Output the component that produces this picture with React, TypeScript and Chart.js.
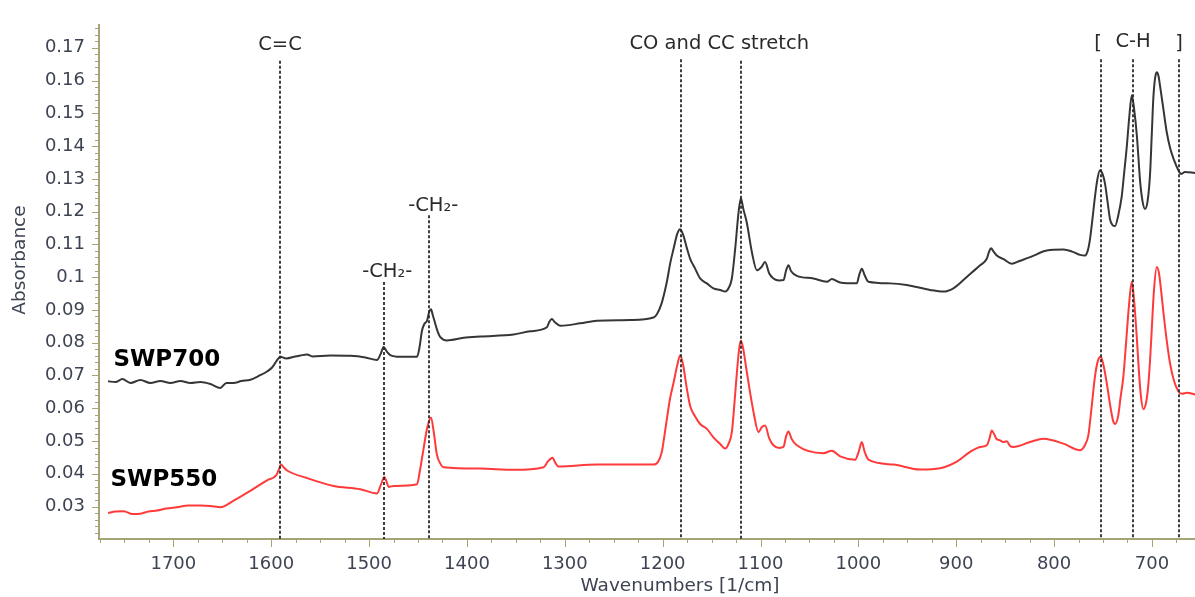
import { useEffect, useRef } from "react";
import { Chart, registerables } from "chart.js";

Chart.register(...registerables);

// ---- Data (wavenumber [1/cm], absorbance) ----
const wavenumbers700 = [
  1766.7, 1759.2, 1752.1, 1743.9, 1733.7, 1723.5, 1713.3, 1703.0, 1692.8, 1682.6,
  1672.4, 1662.2, 1652.0, 1645.8, 1638.7, 1630.5, 1621.3, 1613.2, 1604.3, 1598.9,
  1594.0, 1590.7, 1584.6, 1575.4, 1570.2, 1563.4, 1558.0, 1539.6, 1519.2, 1503.8,
  1491.9, 1488.0, 1485.2, 1481.9, 1478.3, 1468.1, 1451.0, 1448.7, 1445.9, 1443.6,
  1440.8, 1438.7, 1436.7, 1434.9, 1432.3, 1429.8, 1427.2, 1420.4, 1403.4, 1386.4,
  1352.4, 1335.3, 1318.3, 1315.9, 1313.2, 1310.3, 1304.7, 1284.2, 1267.2, 1233.2,
  1209.4, 1205.9, 1201.5, 1195.7, 1192.3, 1188.9, 1185.1, 1182.1, 1178.7, 1175.4,
  1171.9, 1166.8, 1161.7, 1154.8, 1148.1, 1141.2, 1136.1, 1132.7, 1129.3, 1125.9,
  1122.5, 1120.1, 1117.4, 1114.0, 1108.8, 1103.7, 1099.3, 1095.3, 1091.2, 1086.8,
  1080.9, 1076.5, 1073.8, 1071.4, 1068.7, 1062.9, 1045.9, 1032.2, 1027.1, 1018.6,
  1001.6, 999.2, 996.5, 993.6, 989.7, 967.6, 950.5, 926.7, 913.1, 902.9,
  892.7, 883.8, 875.6, 868.8, 866.4, 864.4, 861.8, 858.6, 851.1, 843.3,
  834.8, 824.5, 807.5, 790.5, 781.6, 773.5, 768.4, 765.3, 763.3, 760.7,
  758.2, 755.6, 753.1, 750.5, 748.0, 745.4, 742.8, 740.3, 737.7, 734.6,
  730.9, 728.5, 725.8, 723.1, 720.6, 718.3, 715.5, 713.7, 712.2, 709.6,
  707.1, 704.5, 701.9, 700.1, 698.6, 696.9, 695.1, 693.3, 691.3, 688.4,
  685.1, 681.5, 677.4, 673.0, 670.3, 666.2, 656.0,
];
const absorbance700 = [
  0.0682, 0.0680, 0.0689, 0.0677, 0.0686, 0.0677, 0.0683, 0.0677, 0.0683, 0.0677,
  0.0680, 0.0674, 0.0662, 0.0677, 0.0677, 0.0683, 0.0687, 0.0698, 0.0712, 0.0725,
  0.0747, 0.0757, 0.0752, 0.0758, 0.0761, 0.0764, 0.0758, 0.0761, 0.0760, 0.0755,
  0.0747, 0.0767, 0.0787, 0.0773, 0.0762, 0.0757, 0.0757, 0.0782, 0.0837, 0.0857,
  0.0867, 0.0893, 0.0902, 0.0884, 0.0857, 0.0833, 0.0817, 0.0807, 0.0815, 0.0819,
  0.0825, 0.0835, 0.0847, 0.0863, 0.0872, 0.0863, 0.0852, 0.0859, 0.0867, 0.0869,
  0.0877, 0.0887, 0.0916, 0.0986, 0.1042, 0.1086, 0.1132, 0.1146, 0.1126, 0.1090,
  0.1056, 0.1026, 0.0996, 0.0981, 0.0966, 0.0961, 0.0956, 0.0966, 0.0996, 0.1086,
  0.1196, 0.1241, 0.1206, 0.1166, 0.1076, 0.1021, 0.1030, 0.1046, 0.1012, 0.0996,
  0.0990, 0.0991, 0.1021, 0.1036, 0.1018, 0.1004, 0.0996, 0.0986, 0.0994, 0.0984,
  0.0981, 0.1006, 0.1026, 0.1006, 0.0986, 0.0981, 0.0976, 0.0961, 0.0956, 0.0966,
  0.0991, 0.1015, 0.1036, 0.1056, 0.1078, 0.1088, 0.1078, 0.1066, 0.1054, 0.1041,
  0.1050, 0.1061, 0.1081, 0.1084, 0.1078, 0.1068, 0.1066, 0.1084, 0.1116, 0.1180,
  0.1246, 0.1301, 0.1326, 0.1315, 0.1286, 0.1231, 0.1176, 0.1159, 0.1156, 0.1186,
  0.1246, 0.1315, 0.1395, 0.1491, 0.1555, 0.1515, 0.1435, 0.1360, 0.1296, 0.1231,
  0.1208, 0.1231, 0.1316, 0.1441, 0.1545, 0.1605, 0.1625, 0.1614, 0.1575, 0.1515,
  0.1446, 0.1395, 0.1357, 0.1326, 0.1315, 0.1321, 0.1318,
];

const wavenumbers550 = [
  1766.7, 1759.2, 1750.7, 1741.9, 1733.7, 1725.5, 1716.6, 1707.1, 1696.2, 1684.7,
  1672.4, 1662.2, 1652.0, 1638.4, 1621.3, 1604.3, 1594.8, 1592.2, 1590.0, 1587.1,
  1583.8, 1563.4, 1536.2, 1508.9, 1491.9, 1488.0, 1484.4, 1482.4, 1480.0, 1474.9,
  1451.0, 1448.2, 1444.3, 1440.5, 1436.7, 1433.9, 1430.6, 1427.2, 1423.9, 1386.4,
  1352.4, 1321.7, 1317.4, 1312.5, 1309.8, 1306.4, 1267.2, 1209.4, 1204.6, 1200.8,
  1198.4, 1195.7, 1192.3, 1188.9, 1185.1, 1182.1, 1179.0, 1175.4, 1171.9, 1166.8,
  1161.7, 1154.8, 1148.4, 1141.2, 1136.1, 1132.7, 1129.3, 1126.6, 1124.2, 1121.8,
  1120.1, 1117.7, 1114.6, 1110.6, 1106.5, 1102.1, 1098.8, 1095.3, 1091.2, 1086.8,
  1080.9, 1076.5, 1073.8, 1071.4, 1068.2, 1062.9, 1035.7, 1027.1, 1018.6, 1003.3,
  999.7, 996.5, 993.6, 989.7, 964.2, 936.9, 916.5, 899.4, 885.8, 875.6,
  868.8, 865.9, 863.7, 861.3, 858.8, 855.2, 852.1, 848.4, 845.0, 841.6,
  824.5, 810.9, 790.5, 773.5, 768.4, 765.0, 761.7, 758.2, 755.1, 752.3,
  749.5, 746.2, 742.8, 739.8, 737.7, 734.6, 732.1, 729.2, 726.5, 723.4,
  720.6, 718.3, 715.5, 713.2, 711.1, 708.8, 706.0, 704.0, 701.9, 699.9,
  697.9, 695.1, 692.8, 690.7, 688.4, 685.1, 681.5, 677.4, 673.0, 669.2,
  664.1, 656.0,
];
const absorbance550 = [
  0.0280, 0.0285, 0.0286, 0.0277, 0.0278, 0.0285, 0.0288, 0.0294, 0.0298, 0.0303,
  0.0303, 0.0302, 0.0298, 0.0318, 0.0348, 0.0380, 0.0396, 0.0413, 0.0428, 0.0419,
  0.0410, 0.0387, 0.0363, 0.0353, 0.0340, 0.0366, 0.0390, 0.0378, 0.0360, 0.0363,
  0.0368, 0.0407, 0.0477, 0.0542, 0.0572, 0.0527, 0.0457, 0.0431, 0.0420, 0.0416,
  0.0412, 0.0420, 0.0437, 0.0449, 0.0434, 0.0422, 0.0428, 0.0428, 0.0437, 0.0467,
  0.0512, 0.0567, 0.0632, 0.0677, 0.0731, 0.0762, 0.0731, 0.0662, 0.0607, 0.0575,
  0.0552, 0.0537, 0.0512, 0.0491, 0.0477, 0.0491, 0.0527, 0.0617, 0.0707, 0.0782,
  0.0807, 0.0782, 0.0722, 0.0647, 0.0578, 0.0527, 0.0542, 0.0547, 0.0509, 0.0487,
  0.0479, 0.0482, 0.0515, 0.0529, 0.0506, 0.0487, 0.0463, 0.0470, 0.0453, 0.0443,
  0.0467, 0.0497, 0.0467, 0.0443, 0.0428, 0.0413, 0.0417, 0.0437, 0.0467, 0.0482,
  0.0487, 0.0509, 0.0532, 0.0521, 0.0506, 0.0502, 0.0497, 0.0499, 0.0485, 0.0482,
  0.0497, 0.0507, 0.0492, 0.0472, 0.0488, 0.0517, 0.0602, 0.0697, 0.0746, 0.0757,
  0.0731, 0.0677, 0.0611, 0.0563, 0.0552, 0.0575, 0.0632, 0.0697, 0.0797, 0.0916,
  0.0986, 0.0931, 0.0817, 0.0707, 0.0632, 0.0597, 0.0617, 0.0662, 0.0747, 0.0857,
  0.0961, 0.1031, 0.1012, 0.0961, 0.0896, 0.0812, 0.0737, 0.0683, 0.0652, 0.0644,
  0.0647, 0.0642,
];

const seriesNames = ["SWP700", "SWP550"];
const seriesLabelX = [1761.3, 1764.3];
const seriesLabelY = [0.0746, 0.0381];

// Band markers (dashed vertical lines)
const markerWavenumbers = [1591, 1485, 1439, 1181, 1120, 752, 719, 672];
const markerTops = [0.166, 0.0985, 0.1189, 0.1665, 0.166, 0.1665, 0.1665, 0.1665];

// Band annotation texts
const annotationTexts = ["C=C", "-CH₂-", "-CH₂-", "CO and CC stretch", "[", "C-H", "]"];
const annotationX = [1591, 1481.4, 1434.4, 1142.2, 755.1, 719.3, 672.4];
const annotationY = [0.1708, 0.1016, 0.1218, 0.1713, 0.1713, 0.1717, 0.1713];

const xTitle = "Wavenumbers [1/cm]";
const yTitle = "Absorbance";

const AXIS = "#a4a476";
const TICK_TEXT = "#3d4352";
const FONT = "'DejaVu Sans', sans-serif";

const overlay = {
  id: "overlay",
  afterDatasetsDraw(chart: any) {
    const { ctx, chartArea } = chart;
    const x = chart.scales.x;
    const y = chart.scales.y;
    ctx.save();

    // dashed marker lines
    ctx.strokeStyle = "#2a2a2a";
    ctx.lineWidth = 1.8;
    ctx.setLineDash([3, 2]);
    markerWavenumbers.forEach((w, i) => {
      const px = Math.round(x.getPixelForValue(w));
      ctx.beginPath();
      ctx.moveTo(px, y.getPixelForValue(markerTops[i]));
      ctx.lineTo(px, chartArea.bottom);
      ctx.stroke();
    });
    ctx.setLineDash([]);

    // tick marks (major + minor)
    ctx.strokeStyle = AXIS;
    ctx.lineWidth = 1;
    for (let k = 27; k <= 71; k++) {
      const v = k * 25;
      if (v < x.min || v > x.max) continue;
      const px = Math.round(x.getPixelForValue(v)) + 0.5;
      const len = v % 100 === 0 ? 8 : 4;
      ctx.beginPath();
      ctx.moveTo(px, chartArea.bottom);
      ctx.lineTo(px, chartArea.bottom + len);
      ctx.stroke();
    }
    for (let k = 11; k <= 88; k++) {
      const v = k * 0.002;
      if (v < y.min || v > y.max) continue;
      const py = Math.round(y.getPixelForValue(v)) + 0.5;
      const len = k % 5 === 0 ? 7 : 4;
      ctx.beginPath();
      ctx.moveTo(chartArea.left, py);
      ctx.lineTo(chartArea.left - len, py);
      ctx.stroke();
    }

    // annotation texts
    ctx.fillStyle = "#2a2a2a";
    ctx.font = `19.5px ${FONT}`;
    ctx.textAlign = "center";
    ctx.textBaseline = "middle";
    annotationTexts.forEach((t, i) => {
      ctx.fillText(t, x.getPixelForValue(annotationX[i]), y.getPixelForValue(annotationY[i]));
    });

    // series labels
    ctx.fillStyle = "#000";
    ctx.font = `bold 23px ${FONT}`;
    ctx.textAlign = "left";
    seriesNames.forEach((t, i) => {
      ctx.fillText(t, x.getPixelForValue(seriesLabelX[i]), y.getPixelForValue(seriesLabelY[i]));
    });

    // axis titles
    ctx.fillStyle = TICK_TEXT;
    ctx.font = `18.5px ${FONT}`;
    ctx.textAlign = "center";
    ctx.fillText(xTitle, 680, 586);
    ctx.save();
    ctx.translate(20, 260);
    ctx.rotate(-Math.PI / 2);
    ctx.fillText(yTitle, 0, 0);
    ctx.restore();

    ctx.restore();
  },
};

export default function App() {
  const ref = useRef<HTMLCanvasElement>(null);
  useEffect(() => {
    document.body.style.margin = "0";
    const canvas = ref.current!;
    const chart = new Chart(canvas, {
      type: "line",
      data: {
        datasets: [
          {
            label: seriesNames[0],
            data: wavenumbers700.map((w, i) => ({ x: w, y: absorbance700[i] })),
            borderColor: "#363636",
            borderWidth: 2,
            pointRadius: 0,
            cubicInterpolationMode: "monotone",
          },
          {
            label: seriesNames[1],
            data: wavenumbers550.map((w, i) => ({ x: w, y: absorbance550[i] })),
            borderColor: "#ff3a3a",
            borderWidth: 2,
            pointRadius: 0,
            cubicInterpolationMode: "monotone",
          },
        ],
      },
      options: {
        animation: false,
        responsive: false,
        maintainAspectRatio: false,
        events: [],
        layout: { padding: { top: 15, right: 0, bottom: 0, left: 0 } },
        plugins: { legend: { display: false }, tooltip: { enabled: false } },
        scales: {
          x: {
            type: "linear",
            reverse: true,
            min: 656,
            max: 1776,
            afterFit: (s: any) => {
              s.height = 58;
            },
            grid: { display: false, drawTicks: false },
            border: { display: true, color: AXIS, width: 2 },
            ticks: {
              stepSize: 100,
              includeBounds: false,
              autoSkip: false,
              maxRotation: 0,
              padding: 15,
              color: TICK_TEXT,
              font: { family: FONT, size: 18 },
              callback: (v: any) => String(v),
            },
          },
          y: {
            type: "linear",
            min: 0.0201,
            max: 0.177,
            afterFit: (s: any) => {
              s.width = 99;
            },
            grid: { display: false, drawTicks: false },
            border: { display: true, color: AXIS, width: 2 },
            ticks: {
              stepSize: 0.01,
              includeBounds: false,
              autoSkip: false,
              padding: 14,
              color: TICK_TEXT,
              font: { family: FONT, size: 18 },
              callback: (v: any) => String(parseFloat(Number(v).toFixed(2))),
            },
          },
        },
      },
      plugins: [overlay],
    } as any);
    return () => chart.destroy();
  }, []);
  return <canvas ref={ref} width={1195} height={597} style={{ display: "block" }} />;
}
